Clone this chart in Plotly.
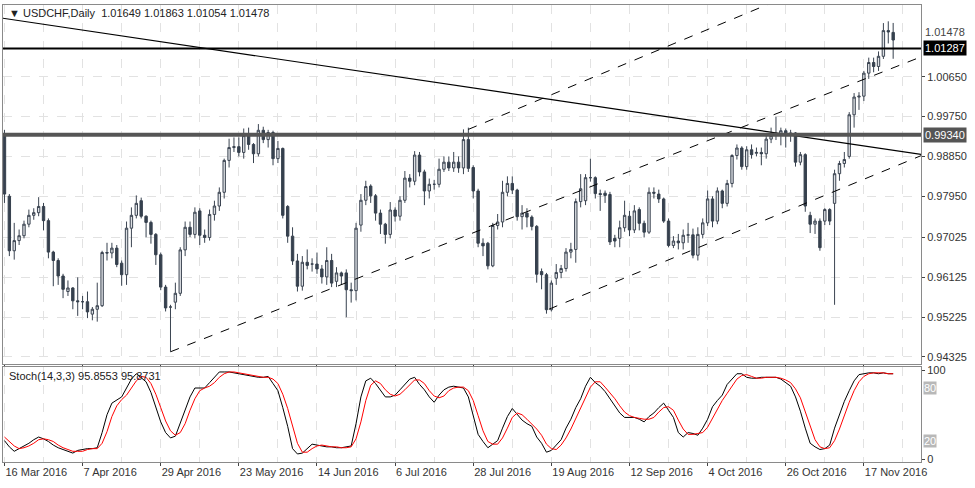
import plotly.graph_objects as go
from plotly.subplots import make_subplots

# --- OHLC diário USDCHF ---
opens = [.9935, .9795, .9672, .9695, .9706, .9732, .9752, .9758, .9772, .9740, .9669, .9650, .9615, .9580, .9588, .9559, .9557, .9557, .9529, .9540,
         .9548, .9668, .9667, .9678, .9644, .9618, .9723, .9752, .9785, .9750, .9736, .9709, .9663, .9590, .9545, .9556, .9576, .9674, .9725, .9709,
         .9762, .9707, .9702, .9754, .9773, .9804, .9876, .9905, .9907, .9894, .9936, .9912, .9891, .9944, .9923, .9939, .9880, .9903, .9772, .9705,
         .9649, .9592, .9646, .9642, .9642, .9631, .9613, .9650, .9603, .9622, .9622, .9584, .9582, .9730, .9786, .9818, .9796, .9757, .9732, .9709,
         .9764, .9750, .9786, .9836, .9829, .9888, .9850, .9807, .9822, .9822, .9856, .9872, .9859, .9872, .9859, .9923, .9860, .9807, .9689, .9689,
         .9638, .9729, .9737, .9804, .9824, .9809, .9749, .9757, .9748, .9727, .9625, .9618, .9539, .9610, .9623, .9632, .9669, .9675, .9783, .9785,
         .9837, .9837, .9801, .9802, .9799, .9700, .9700, .9724, .9750, .9719, .9765, .9734, .9714, .9804, .9800, .9789, .9739, .9684, .9694, .9690,
         .9707, .9708, .9662, .9709, .9735, .9789, .9739, .9807, .9779, .9824, .9887, .9904, .9862, .9900, .9892, .9894, .9891, .9924, .9936, .9936,
         .9943, .9934, .9938, .9872, .9889, .9752, .9732, .9739, .9739, .9765, .9779, .9846, .9869, .9885, .9979, 1.0019, 1.0021, 1.0073, 1.0097, 1.0088,
         1.0111, 1.0169, 1.01649]
highs = [.9945, .9800, .9735, .9720, .9740, .9765, .9768, .9793, .9780, .9745, .9672, .9655, .9620, .9605, .9590, .9612, .9570, .9580, .9545, .9600,
         .9672, .9690, .9690, .9685, .9650, .9738, .9770, .9797, .9792, .9752, .9740, .9712, .9668, .9595, .9550, .9600, .9680, .9738, .9738, .9770,
         .9768, .9720, .9765, .9785, .9815, .9880, .9925, .9928, .9928, .9948, .9950, .9915, .9958, .9952, .9945, .9943, .9920, .9905, .9775, .9725,
         .9665, .9660, .9675, .9655, .9668, .9640, .9680, .9665, .9635, .9625, .9630, .9600, .9735, .9800, .9830, .9822, .9800, .9765, .9735, .9782,
         .9770, .9795, .9852, .9845, .9897, .9895, .9855, .9835, .9832, .9880, .9885, .9885, .9895, .9885, .9946, .9950, .9865, .9812, .9700, .9692,
         .9735, .9755, .9830, .9840, .9840, .9812, .9775, .9768, .9752, .9730, .9632, .9622, .9605, .9642, .9640, .9678, .9690, .9790, .9845, .9845,
         .9880, .9840, .9810, .9808, .9805, .9708, .9740, .9785, .9762, .9775, .9770, .9740, .9815, .9815, .9810, .9792, .9745, .9705, .9710, .9720,
         .9735, .9722, .9725, .9745, .9808, .9795, .9815, .9810, .9832, .9890, .9912, .9908, .9908, .9912, .9905, .9905, .9935, .9950, .9975, .9950,
         .9948, .9945, .9940, .9895, .9892, .9760, .9745, .9745, .9768, .9768, .9855, .9875, .9895, .9985, 1.0028, 1.0030, 1.0078, 1.0108, 1.0108,
         1.0122, 1.0186, 1.0190, 1.01863]
lows = [.9780, .9660, .9652, .9685, .9700, .9725, .9742, .9750, .9718, .9655, .9592, .9595, .9565, .9570, .9540, .9525, .9540, .9520, .9515, .9512,
        .9545, .9650, .9655, .9635, .9593, .9595, .9680, .9745, .9745, .9702, .9688, .9640, .9583, .9535, .9444, .9540, .9570, .9660, .9703, .9700,
        .9685, .9690, .9695, .9740, .9762, .9790, .9860, .9895, .9885, .9880, .9900, .9870, .9885, .9915, .9905, .9865, .9870, .9745, .9690, .9640,
        .9580, .9582, .9630, .9625, .9620, .9598, .9595, .9590, .9590, .9595, .9522, .9555, .9560, .9715, .9775, .9780, .9740, .9710, .9688, .9700,
        .9738, .9740, .9780, .9815, .9820, .9840, .9775, .9790, .9810, .9815, .9850, .9852, .9850, .9848, .9845, .9850, .9790, .9680, .9660, .9630,
        .9635, .9720, .9725, .9795, .9800, .9740, .9720, .9725, .9718, .9600, .9585, .9530, .9535, .9595, .9610, .9625, .9655, .9645, .9770, .9775,
        .9828, .9790, .9762, .9780, .9685, .9680, .9680, .9715, .9705, .9712, .9718, .9702, .9710, .9790, .9780, .9735, .9680, .9678, .9675, .9675,
        .9690, .9655, .9650, .9700, .9728, .9725, .9732, .9768, .9772, .9815, .9878, .9855, .9855, .9880, .9885, .9865, .9880, .9915, .9922, .9910,
        .9905, .9918, .9862, .9865, .9760, .9712, .9710, .9672, .9730, .9730, .9550, .9830, .9860, .9880, .9950, .9990, 1.0010, 1.0060, 1.0075,
        1.0078, 1.0105, 1.0140, 1.01054]
closes = [.9800, .9672, .9695, .9706, .9732, .9752, .9758, .9772, .9740, .9669, .9650, .9615, .9585, .9588, .9559, .9557, .9557, .9534, .9540, .9548,
          .9668, .9667, .9678, .9641, .9618, .9723, .9752, .9779, .9750, .9736, .9709, .9663, .9590, .9543, .9545, .9576, .9674, .9725, .9709, .9759,
          .9707, .9702, .9754, .9773, .9804, .9876, .9905, .9907, .9894, .9932, .9912, .9891, .9944, .9923, .9939, .9880, .9903, .9752, .9705, .9649,
          .9592, .9646, .9639, .9642, .9631, .9613, .9650, .9599, .9622, .9615, .9584, .9582, .9723, .9786, .9817, .9796, .9757, .9732, .9709, .9764,
          .9750, .9786, .9836, .9829, .9888, .9850, .9807, .9822, .9822, .9856, .9872, .9859, .9872, .9859, .9923, .9858, .9807, .9689, .9683, .9638,
          .9729, .9737, .9804, .9824, .9809, .9749, .9757, .9748, .9727, .9619, .9618, .9539, .9599, .9623, .9632, .9669, .9675, .9783, .9812, .9837,
          .9837, .9801, .9799, .9797, .9692, .9694, .9724, .9752, .9719, .9762, .9734, .9714, .9804, .9802, .9789, .9739, .9684, .9694, .9690, .9707,
          .9708, .9662, .9709, .9735, .9789, .9739, .9807, .9779, .9824, .9887, .9904, .9862, .9900, .9889, .9894, .9891, .9924, .9932, .9936, .9943,
          .9934, .9938, .9872, .9889, .9773, .9732, .9739, .9679, .9765, .9739, .9846, .9869, .9878, .9979, 1.0019, 1.0021, 1.0073, 1.0097, 1.0088,
          1.0111, 1.0169, 1.0166, 1.01478]

# --- Estocástico (14,3,3) ---
stoch_k = [21, 14, 9, 12, 15, 18, 22, 25, 23, 20, 16, 13, 11, 9, 7, 10, 11, 12, 12, 13, 30, 50, 63, 67, 70, 80, 90, 96, 92, 87,
           75, 58, 42, 30, 24, 26, 40, 54, 70, 80, 80, 80, 86, 92, 98, 98, 98, 97, 96, 95, 94, 93, 92, 92, 93, 85, 77, 58, 37, 12,
           6, 7, 12, 17, 16, 15, 14, 14, 13, 13, 14, 15, 40, 70, 88, 91, 85, 78, 70, 70, 72, 78, 84, 90, 92, 84, 78, 70, 64, 72,
           78, 81, 82, 81, 80, 70, 48, 28, 20, 13, 17, 21, 35, 48, 57, 50, 44, 40, 37, 25, 18, 8, 10, 16, 22, 35, 45, 58, 68, 82,
           92, 86, 82, 76, 68, 59, 52, 47, 47, 47, 45, 42, 48, 52, 58, 63, 55, 47, 30, 25, 30, 29, 27, 35, 45, 59, 66, 72, 84, 90,
           96, 96, 92, 91, 91, 92, 92, 92, 92, 90, 86, 82, 70, 54, 35, 18, 14, 11, 12, 16, 35, 51, 65, 77, 88, 95, 96, 97, 97, 96,
           97, 96, 96]
stoch_d = [25, 20, 15, 12, 13, 15, 18, 22, 23, 22, 20, 16, 13, 11, 9, 9, 9, 11, 12, 12, 18, 31, 48, 60, 67, 72, 80, 88, 93, 92,
           85, 73, 58, 43, 32, 27, 30, 40, 55, 68, 77, 80, 82, 86, 92, 96, 98, 98, 97, 96, 95, 94, 93, 92, 92, 90, 85, 73, 57, 36,
           18, 8, 8, 12, 15, 16, 15, 14, 14, 13, 13, 14, 23, 42, 66, 83, 88, 85, 78, 73, 71, 73, 78, 84, 89, 89, 85, 77, 71, 69,
           71, 77, 80, 81, 81, 77, 66, 49, 32, 20, 17, 17, 24, 35, 47, 52, 50, 45, 40, 34, 27, 17, 12, 11, 16, 24, 34, 46, 57, 69,
           81, 87, 87, 81, 75, 68, 60, 53, 49, 47, 46, 45, 45, 47, 53, 58, 59, 55, 44, 34, 28, 28, 29, 30, 36, 46, 57, 66, 74, 82,
           90, 94, 95, 93, 91, 91, 92, 92, 92, 91, 89, 86, 79, 69, 53, 36, 22, 14, 12, 13, 21, 34, 50, 64, 77, 87, 93, 96, 97, 97,
           97, 96, 96]

bars = list(range(len(closes)))
tick_bars = [0, 16, 32, 48, 64, 80, 96, 112, 128, 144, 160, 176]
tick_labels = ['16 Mar 2016', '7 Apr 2016', '29 Apr 2016', '23 May 2016', '14 Jun 2016', '6 Jul 2016',
               '28 Jul 2016', '19 Aug 2016', '12 Sep 2016', '4 Oct 2016', '26 Oct 2016', '17 Nov 2016']
price_ticks = [0.94325, 0.95225, 0.96125, 0.97025, 0.97950, 0.98850, 0.99750, 1.00650]

# Linhas desenhadas (barra, preço)
trend_x = [-1, 188]
trend_y = [1.0198, 0.9889]
chan_mid_x = [34, 188]
chan_mid_y = [0.9444, 1.0111]
chan_up_x = [95, 160]
chan_up_y = [0.9946, 1.0245]
chan_low_x = [111.5, 188]
chan_low_y = [0.9540, 0.9888]
resist_1 = 1.01287
resist_2 = 0.99340

fig = make_subplots(rows=2, cols=1, shared_xaxes=True, row_heights=[0.79, 0.21],
                    vertical_spacing=0.006)

fig.add_trace(go.Candlestick(
    x=bars, open=opens, high=highs, low=lows, close=closes,
    increasing=dict(fillcolor='#dde0e4', line=dict(color='#3c4552', width=1)),
    decreasing=dict(fillcolor='#36404e', line=dict(color='#36404e', width=1)),
    whiskerwidth=0, showlegend=False), row=1, col=1)

fig.add_trace(go.Scatter(x=trend_x, y=trend_y, mode='lines', line=dict(color='black', width=1.2),
                         showlegend=False), row=1, col=1)
for cx, cy in [(chan_mid_x, chan_mid_y), (chan_up_x, chan_up_y), (chan_low_x, chan_low_y)]:
    fig.add_trace(go.Scatter(x=cx, y=cy, mode='lines', line=dict(color='black', width=1, dash='dash'),
                             showlegend=False), row=1, col=1)

fig.add_hline(y=resist_1, line=dict(color='black', width=2), row=1, col=1)
fig.add_hline(y=resist_2, line=dict(color='#555555', width=4), row=1, col=1)
fig.add_hline(y=80, line=dict(color='#b8b8b8', width=2), row=2, col=1)
fig.add_hline(y=20, line=dict(color='#b8b8b8', width=2), row=2, col=1)

fig.add_trace(go.Scatter(x=bars, y=stoch_k, mode='lines', line=dict(color='black', width=1),
                         showlegend=False), row=2, col=1)
fig.add_trace(go.Scatter(x=bars, y=stoch_d, mode='lines', line=dict(color='red', width=1),
                         showlegend=False), row=2, col=1)

grid = dict(showgrid=True, gridcolor='#e2e2e2', griddash='dash', gridwidth=1)
frame = dict(showline=True, linecolor='#8a8a8a', linewidth=1, mirror=True, zeroline=False, automargin=False)

fig.update_xaxes(range=[-0.3, 187.7], tickvals=tick_bars, ticktext=tick_labels, ticks='outside',
                 ticklen=3, tickcolor='#444', ticklabelposition='outside right', **grid, **frame,
                 minor=dict(dtick=8, tick0=0, showgrid=True, gridcolor='#e2e2e2', griddash='dash'),
                 rangeslider=dict(visible=False))
fig.update_xaxes(showticklabels=False, row=1, col=1)
fig.update_yaxes(side='right', range=[0.94167, 1.02268], tickvals=price_ticks,
                 ticktext=[f'{v:.5f}' for v in price_ticks], ticks='outside', ticklen=3,
                 **grid, **frame, row=1, col=1)
fig.update_yaxes(side='right', range=[-3, 104], tickvals=[0, 100], ticks='outside', ticklen=3,
                 showgrid=False, **frame, row=2, col=1)

ann = [
    dict(x=0.004, y=0.999, xref='paper', yref='paper', xanchor='left', yanchor='top',
         text='▼ USDCHF,Daily  1.01649 1.01863 1.01054 1.01478', showarrow=False,
         font=dict(size=11, color='#222')),
    dict(x=0.004, y=0.205, xref='paper', yref='paper', xanchor='left', yanchor='top',
         text='Stoch(14,3,3) 95.8553 95.8731', showarrow=False, font=dict(size=11, color='#222')),
    dict(x=1.002, y=1.01478, xref='paper', yref='y', xanchor='left', yanchor='bottom',
         text='1.01478', showarrow=False, font=dict(size=11, color='#444')),
    dict(x=1.002, y=resist_1, xref='paper', yref='y', xanchor='left', text='1.01287', showarrow=False,
         bgcolor='black', font=dict(size=11, color='white'), borderpad=1),
    dict(x=1.002, y=resist_2, xref='paper', yref='y', xanchor='left', text='0.99340', showarrow=False,
         bgcolor='#555555', font=dict(size=11, color='white'), borderpad=1),
    dict(x=1.002, y=80, xref='paper', yref='y2', xanchor='left', text='80', showarrow=False,
         bgcolor='#b8b8b8', font=dict(size=11, color='white'), borderpad=0),
    dict(x=1.002, y=20, xref='paper', yref='y2', xanchor='left', text='20', showarrow=False,
         bgcolor='#b8b8b8', font=dict(size=11, color='white'), borderpad=0),
]

fig.update_layout(
    width=975, height=488,
    margin=dict(l=3, r=54, t=5, b=26, autoexpand=False),
    paper_bgcolor='white', plot_bgcolor='white',
    font=dict(family='Liberation Sans', size=11, color='#333'),
    annotations=ann,
    showlegend=False,
)

fig.write_html('out.html', config={'displayModeBar': False},
               post_script="document.body.style.margin='0';document.body.style.overflow='hidden';")
